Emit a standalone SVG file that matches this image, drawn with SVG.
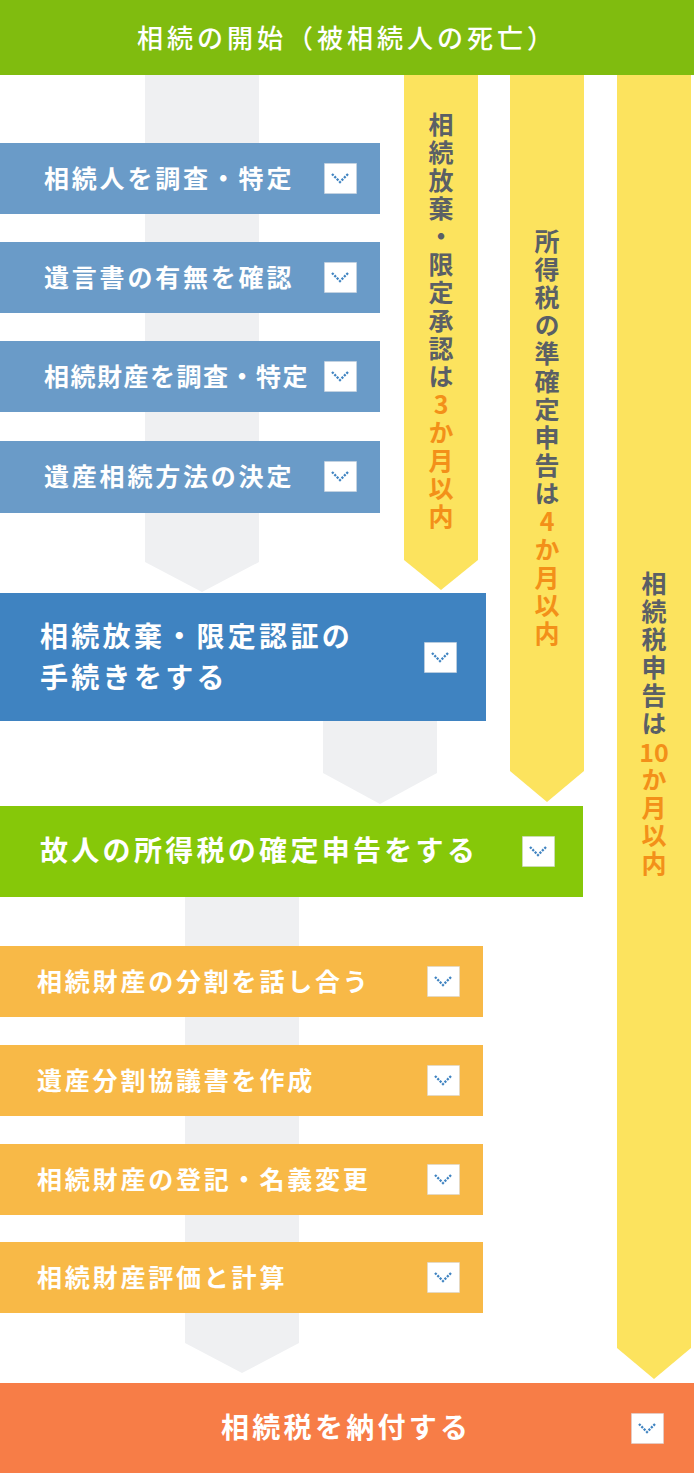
<svg xmlns="http://www.w3.org/2000/svg" width="694" height="1473" viewBox="0 0 694 1473">
<defs>
<style>
.t{font-family:"Noto Sans CJK JP","Noto Sans CJK SC",sans-serif;fill:#fff;font-weight:700}
.s{font-size:25px;letter-spacing:2.8px}
.l{font-size:28px;letter-spacing:3.3px}
.v{font-family:"Noto Sans CJK JP","Noto Sans CJK SC",sans-serif;font-size:25px;font-weight:700;fill:#5a5f66;writing-mode:vertical-rl;text-orientation:upright;letter-spacing:3px}
.o{fill:#f39019}
.h{font-family:"Noto Sans CJK JP","Noto Sans CJK SC",sans-serif;font-size:25px;font-weight:700;fill:#f39019;text-anchor:middle}
.gray{fill:#eff0f2}
.yel{fill:#fce35e}
.ib{fill:#fff;stroke:#d0d6de;stroke-width:1;stroke-dasharray:1 1}
.ch{fill:none;stroke:#3f83c1;stroke-width:2.3;stroke-dasharray:2.2 1.2}
</style>
<g id="icon">
<rect class="ib" x="0.5" y="0.5" width="32" height="30"/>
<polyline class="ch" points="8,11 16,19 24,11"/>
</g>
</defs>
<rect width="694" height="1473" fill="#fff"/>
<g id="connectors">
<polygon class="gray" points="145,75 259,75 259,562 202,592 145,562"/>
<polygon class="gray" points="323,721 437,721 437,773 380,804 323,773"/>
<polygon class="gray" points="185,897 299,897 299,1343 242,1373 185,1343"/>
</g>
<g id="start">
<rect x="0" y="0" width="694" height="75" fill="#80bc0f"/>
<text class="t" x="137" y="48" style="font-weight:500;font-size:26px;letter-spacing:4px">相続の開始（被相続人の死亡）</text>
</g>
<g id="deadline-3m">
<polygon class="yel" points="404,75 478,75 478,560 441,590 404,560"/>
<text class="v" x="441" y="112">相続放棄・限定承認は<tspan class="o">3か月以内</tspan></text>
</g>
<g id="deadline-4m">
<polygon class="yel" points="510,75 584,75 584,771 547,802 510,771"/>
<text class="v" x="547" y="229">所得税の準確定申告は<tspan class="o">4か月以内</tspan></text>
</g>
<g id="deadline-10m">
<polygon class="yel" points="617,75 691,75 691,1348 654,1379 617,1348"/>
<text class="v" x="654" y="571">相続税申告は</text>
<text class="h" x="654" y="762">10</text>
<text class="v o" x="654" y="767">か月以内</text>
</g>
<g id="step1">
<rect x="0" y="143" width="380" height="71" fill="#6a9bc8"/>
<text class="t s" x="44" y="188">相続人を調査・特定</text>
<use href="#icon" x="324" y="163"/>
</g>
<g id="step2">
<rect x="0" y="242" width="380" height="71" fill="#6a9bc8"/>
<text class="t s" x="44" y="287">遺言書の有無を確認</text>
<use href="#icon" x="324" y="262"/>
</g>
<g id="step3">
<rect x="0" y="341" width="380" height="71" fill="#6a9bc8"/>
<text class="t s" x="44" y="386" style="letter-spacing:1.5px">相続財産を調査・特定</text>
<use href="#icon" x="324" y="361"/>
</g>
<g id="step4">
<rect x="0" y="441" width="380" height="72" fill="#6a9bc8"/>
<text class="t s" x="44" y="486">遺産相続方法の決定</text>
<use href="#icon" x="324" y="461"/>
</g>
<g id="step5">
<rect x="0" y="593" width="486" height="128" fill="#3f83c1"/>
<text class="t l" x="40" y="647">相続放棄・限定認証の</text>
<text class="t l" x="40" y="688">手続きをする</text>
<use href="#icon" x="424" y="642"/>
</g>
<g id="step6">
<rect x="0" y="806" width="583" height="91" fill="#86c809"/>
<text class="t l" x="40" y="861">故人の所得税の確定申告をする</text>
<use href="#icon" x="522" y="836"/>
</g>
<g id="step7">
<rect x="0" y="946" width="483" height="71" fill="#f8b947"/>
<text class="t s" x="37" y="991">相続財産の分割を話し合う</text>
<use href="#icon" x="427" y="966"/>
</g>
<g id="step8">
<rect x="0" y="1045" width="483" height="71" fill="#f8b947"/>
<text class="t s" x="37" y="1090">遺産分割協議書を作成</text>
<use href="#icon" x="427" y="1065"/>
</g>
<g id="step9">
<rect x="0" y="1144" width="483" height="71" fill="#f8b947"/>
<text class="t s" x="37" y="1189">相続財産の登記・名義変更</text>
<use href="#icon" x="427" y="1164"/>
</g>
<g id="step10">
<rect x="0" y="1242" width="483" height="71" fill="#f8b947"/>
<text class="t s" x="37" y="1287">相続財産評価と計算</text>
<use href="#icon" x="427" y="1262"/>
</g>
<g id="step11">
<rect x="0" y="1383" width="694" height="90" fill="#f77d47"/>
<text class="t l" x="221" y="1438">相続税を納付する</text>
<use href="#icon" x="631" y="1413"/>
</g>
</svg>
